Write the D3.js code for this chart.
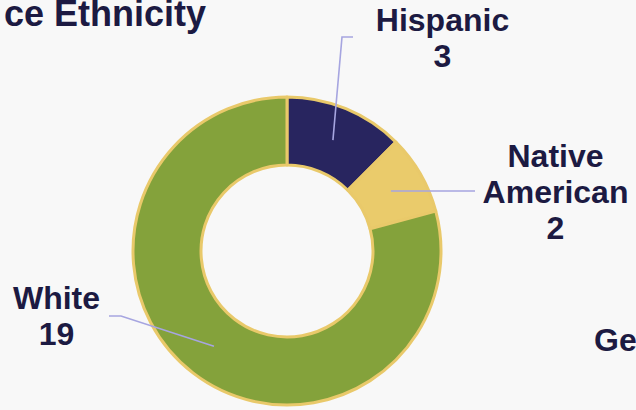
<!DOCTYPE html>
<html>
<head>
<meta charset="utf-8">
<script src="https://cdn.jsdelivr.net/npm/d3@7"></script>
<style>
  html, body { margin: 0; padding: 0; background: #f8f8f8; }
  svg { display: block; font-family: "Liberation Sans", Arial, Helvetica, sans-serif; }
</style>
</head>
<body>
<div id="chart"></div>
<script>
// data
var categories = ["Hispanic", "Native American", "White"];
var values = [3, 2, 19];
var colors = ["#28255f", "#eacb6b", "#84a23b"];

var width = 636, height = 410;
var cx = 287, cy = 251;
var outerR = 154, innerR = 86;

// label placement, relative to the donut centre (elbow, line end, text)
var labelLayout = [
  {elbow: [55, -214], end: [66, -214], text: [155.5, -220]},
  {elbow: [188, -60], end: [188, -60], text: [268.5, -84]},
  {elbow: [-166, 65], end: [-178, 65], text: [-230.5, 58]}
];

var svg = d3.select("#chart")
  .append("svg")
  .attr("width", width)
  .attr("height", height);

svg.append("rect")
  .attr("width", width)
  .attr("height", height)
  .attr("fill", "#f8f8f8");

// titles of the neighbouring panels, as far as they show in the frame
svg.append("text")
  .attr("x", 206)
  .attr("y", 26)
  .attr("text-anchor", "end")
  .style("font-size", "36px")
  .style("font-weight", "bold")
  .style("fill", "#1c1a42")
  .text("ce Ethnicity");

svg.append("text")
  .attr("x", 594)
  .attr("y", 351)
  .style("font-size", "32px")
  .style("font-weight", "bold")
  .style("fill", "#1c1a42")
  .text("Ge");

var data = categories.map(function(c, i) { return {name: c, value: values[i], color: colors[i]}; });

var pie = d3.pie()
  .sort(null)
  .value(function(d) { return d.value; });

var arc = d3.arc()
  .innerRadius(innerR)
  .outerRadius(outerR);

var g = svg.append("g")
  .attr("transform", "translate(" + cx + "," + cy + ")");

var arcs = pie(data);

g.selectAll("path.slice")
  .data(arcs)
  .join("path")
  .attr("class", "slice")
  .attr("d", arc)
  .attr("fill", function(d) { return d.data.color; })
  .attr("stroke", "#e9c96a")
  .attr("stroke-width", 3)
  .attr("stroke-linejoin", "round");

// leader lines
g.selectAll("polyline.leader")
  .data(arcs)
  .join("polyline")
  .attr("class", "leader")
  .attr("points", function(d, i) {
    var c = arc.centroid(d);
    var l = labelLayout[i];
    return [c, l.elbow, l.end].map(function(p) { return p.join(","); }).join(" ");
  })
  .attr("fill", "none")
  .attr("stroke", "#a6a5e0")
  .attr("stroke-width", 1.6);

// labels
var labels = g.selectAll("text.label")
  .data(arcs)
  .join("text")
  .attr("class", "label")
  .attr("text-anchor", "middle")
  .style("font-size", "32px")
  .style("font-weight", "bold")
  .style("fill", "#1c1a42");

labels.each(function(d, i) {
  var l = labelLayout[i];
  var lines = d.data.name.split(" ").concat([String(d.data.value)]);
  d3.select(this).selectAll("tspan")
    .data(lines)
    .join("tspan")
    .attr("x", l.text[0])
    .attr("y", function(t, j) { return l.text[1] + j * 36; })
    .text(function(t) { return t; });
});
</script>
</body>
</html>
